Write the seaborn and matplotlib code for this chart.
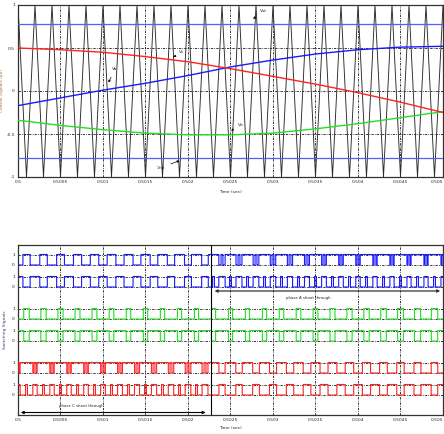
import numpy as np
import pandas as pd
import matplotlib
matplotlib.use("Agg")
import matplotlib.pyplot as plt
import seaborn as sns

# ---- data -------------------------------------------------------------
t_ref = [0.5000, 0.5005, 0.5010, 0.5015, 0.5020, 0.5025, 0.5030, 0.5035, 0.5040, 0.5045, 0.5050]
va = [-0.17, -0.08, 0.01, 0.09, 0.18, 0.28, 0.36, 0.43, 0.48, 0.51, 0.52]
vb = [-0.34, -0.40, -0.45, -0.49, -0.51, -0.51, -0.49, -0.44, -0.38, -0.31, -0.24]
vc = [0.50, 0.48, 0.45, 0.40, 0.34, 0.26, 0.17, 0.08, -0.02, -0.13, -0.25]
v_st = 0.78  # shoot-through envelope (+Vst / -Vst)

carrier_t = [0.5000, 0.5001, 0.5002, 0.5003, 0.5004, 0.5005, 0.5006, 0.5007, 0.5008, 0.5009,
             0.5010, 0.5011, 0.5012, 0.5013, 0.5014, 0.5015, 0.5016, 0.5017, 0.5018, 0.5019,
             0.5020, 0.5021, 0.5022, 0.5023, 0.5024, 0.5025, 0.5026, 0.5027, 0.5028, 0.5029,
             0.5030, 0.5031, 0.5032, 0.5033, 0.5034, 0.5035, 0.5036, 0.5037, 0.5038, 0.5039,
             0.5040, 0.5041, 0.5042, 0.5043, 0.5044, 0.5045, 0.5046, 0.5047, 0.5048, 0.5049,
             0.5050]
carrier_v = [1, -1, 1, -1, 1, -1, 1, -1, 1, -1,
             1, -1, 1, -1, 1, -1, 1, -1, 1, -1,
             1, -1, 1, -1, 1, -1, 1, -1, 1, -1,
             1, -1, 1, -1, 1, -1, 1, -1, 1, -1,
             1, -1, 1, -1, 1, -1, 1, -1, 1, -1,
             1]

t_change = 0.50227  # shoot-through moves from phase C to phase A
x_ticks = [0.5, 0.5005, 0.501, 0.5015, 0.502, 0.5025, 0.503, 0.5035, 0.504, 0.5045, 0.505]
x_tick_labels = ["0.5", "0.5005", "0.501", "0.5015", "0.502", "0.5025", "0.503",
                 "0.5035", "0.504", "0.5045", "0.505"]

# ---- style ------------------------------------------------------------
sns.set_theme(style="white")
plt.rcParams["font.family"] = ["DejaVu Sans"]
BLUE, GREEN, RED = "#1a1aff", "#22e022", "#ff2222"
FS = 3.2

fig = plt.figure(figsize=(4.44, 4.34), dpi=100)
fig.patch.set_facecolor("white")
ax1 = fig.add_axes([18 / 444, 1 - 177 / 434, 425 / 444, 172 / 434])
ax2 = fig.add_axes([18 / 444, 1 - 415 / 434, 425 / 444, 170 / 434])

grid_kw = dict(color="black", lw=0.55, ls=(0, (3, 1.5, 1, 1.5)), zorder=1)

# ---- control signals --------------------------------------------------
carrier_df = pd.DataFrame({"t": carrier_t, "v": carrier_v})
sns.lineplot(data=carrier_df, x="t", y="v", ax=ax1, color="#2a2a2a", lw=0.65,
             estimator=None, sort=False, zorder=3)

ref_df = pd.DataFrame({"t": t_ref, "Va": va, "Vb": vb, "Vc": vc})
for col, c in (("Va", BLUE), ("Vb", GREEN), ("Vc", RED)):
    sns.lineplot(data=ref_df, x="t", y=col, ax=ax1, color=c, lw=1.0, zorder=4)
for lvl in (v_st, -v_st):
    ax1.axhline(lvl, color="#5a5aff", lw=0.9, zorder=4)

for x in x_ticks[1:-1]:
    ax1.axvline(x, **grid_kw)
for y in (-0.5, 0, 0.5):
    ax1.axhline(y, **grid_kw)

ax1.set_xlim(0.5, 0.505)
ax1.set_ylim(-1, 1)
ax1.set_xticks(x_ticks)
ax1.set_xticklabels(x_tick_labels)
ax1.set_yticks([-1, -0.5, 0, 0.5, 1])
ax1.set_yticklabels(["-1", "-0.5", "0", "0.5", "1"])
ax1.set_xlabel("Time (sec)", fontsize=FS, labelpad=4)
ax1.set_ylabel("Control Signals (pu)", fontsize=FS, labelpad=2, color="#aa7744")

arrow = dict(arrowstyle="-|>", color="black", lw=0.5, mutation_scale=3)
notes = [("Vst", (0.50289, 0.93), (0.50274, 0.82)),
         ("Vc", (0.50193, 0.45), (0.50180, 0.38)),
         ("Va", (0.50114, 0.25), (0.50105, 0.07)),
         ("Vb", (0.50262, -0.39), (0.50248, -0.48)),
         ("-Vst", (0.50168, -0.89), (0.50193, -0.80))]
for txt, xy_text, xy in notes:
    ax1.annotate(txt, xy=xy, xytext=xy_text, fontsize=FS, ha="center", va="center",
                 arrowprops=arrow, zorder=6)

# ---- switching signals ------------------------------------------------
tt = np.linspace(0.5, 0.505, 40001)
car = np.interp(tt, carrier_t, carrier_v)
ra = np.interp(tt, t_ref, va)
rb = np.interp(tt, t_ref, vb)
rc = np.interp(tt, t_ref, vc)
st = (car > v_st) | (car < -v_st)
first = tt < t_change

s1 = ra > car
s4 = ~s1
s3 = rb > car
s6 = ~s3
s5 = rc > car
s2 = ~s5
s1 = s1 | (st & ~first)
s4 = s4 | (st & ~first)
s5 = s5 | (st & first)
s2 = s2 | (st & first)

bases = [15.0, 12.8, 9.6, 7.4, 4.2, 2.0]
height = 1.05
rows = [(s1, BLUE), (s4, BLUE), (s3, GREEN), (s6, GREEN), (s5, RED), (s2, RED)]

for base in bases:
    ax2.axhline(base, **grid_kw)
    ax2.axhline(base + height, **grid_kw)
for x in x_ticks[1:-1]:
    ax2.axvline(x, **grid_kw)

for (sig, c), base in zip(rows, bases):
    df = pd.DataFrame({"t": tt, "s": base + height * sig.astype(float)})
    sns.lineplot(data=df, x="t", y="s", ax=ax2, color=c, lw=0.8,
                 estimator=None, sort=False, drawstyle="steps-post", zorder=4)

ax2.axvline(t_change, color="black", lw=0.8, zorder=5)

ax2.annotate("", xy=(0.50500, 12.4), xytext=(0.50228, 12.4),
             arrowprops=dict(arrowstyle="<|-|>", color="#333333", lw=0.9, mutation_scale=4))
ax2.text(0.50341, 11.75, "phase A shoot through", fontsize=FS - 0.4, ha="center", va="center")
ax2.annotate("", xy=(0.50224, 0.25), xytext=(0.50000, 0.25),
             arrowprops=dict(arrowstyle="<|-|>", color="black", lw=0.8, mutation_scale=4))
ax2.text(0.50075, 0.95, "phase C shoot through", fontsize=FS - 0.4, ha="center", va="center")

ax2.set_xlim(0.5, 0.505)
ax2.set_ylim(0, 17)
yt, ytl = [], []
for base in bases:
    yt += [base, base + height]
    ytl += ["0", "1"]
ax2.set_yticks(yt)
ax2.set_yticklabels(ytl)
ax2.set_xticks(x_ticks)
ax2.set_xticklabels(x_tick_labels)
ax2.set_xlabel("Time (sec)", fontsize=FS, labelpad=3)
ax2.set_ylabel("Switching Signals", fontsize=FS, labelpad=4, color="#334466")

for ax in (ax1, ax2):
    ax.tick_params(axis="both", labelsize=FS, length=1.5, width=0.5, pad=2.2, direction="in")
    for sp in ax.spines.values():
        sp.set_color("#333333")
        sp.set_linewidth(0.9)
    # keep the last time label inside the figure
    ax.get_xticklabels()[-1].set_horizontalalignment("right")

fig.savefig("out.png", dpi=100, facecolor="white")
